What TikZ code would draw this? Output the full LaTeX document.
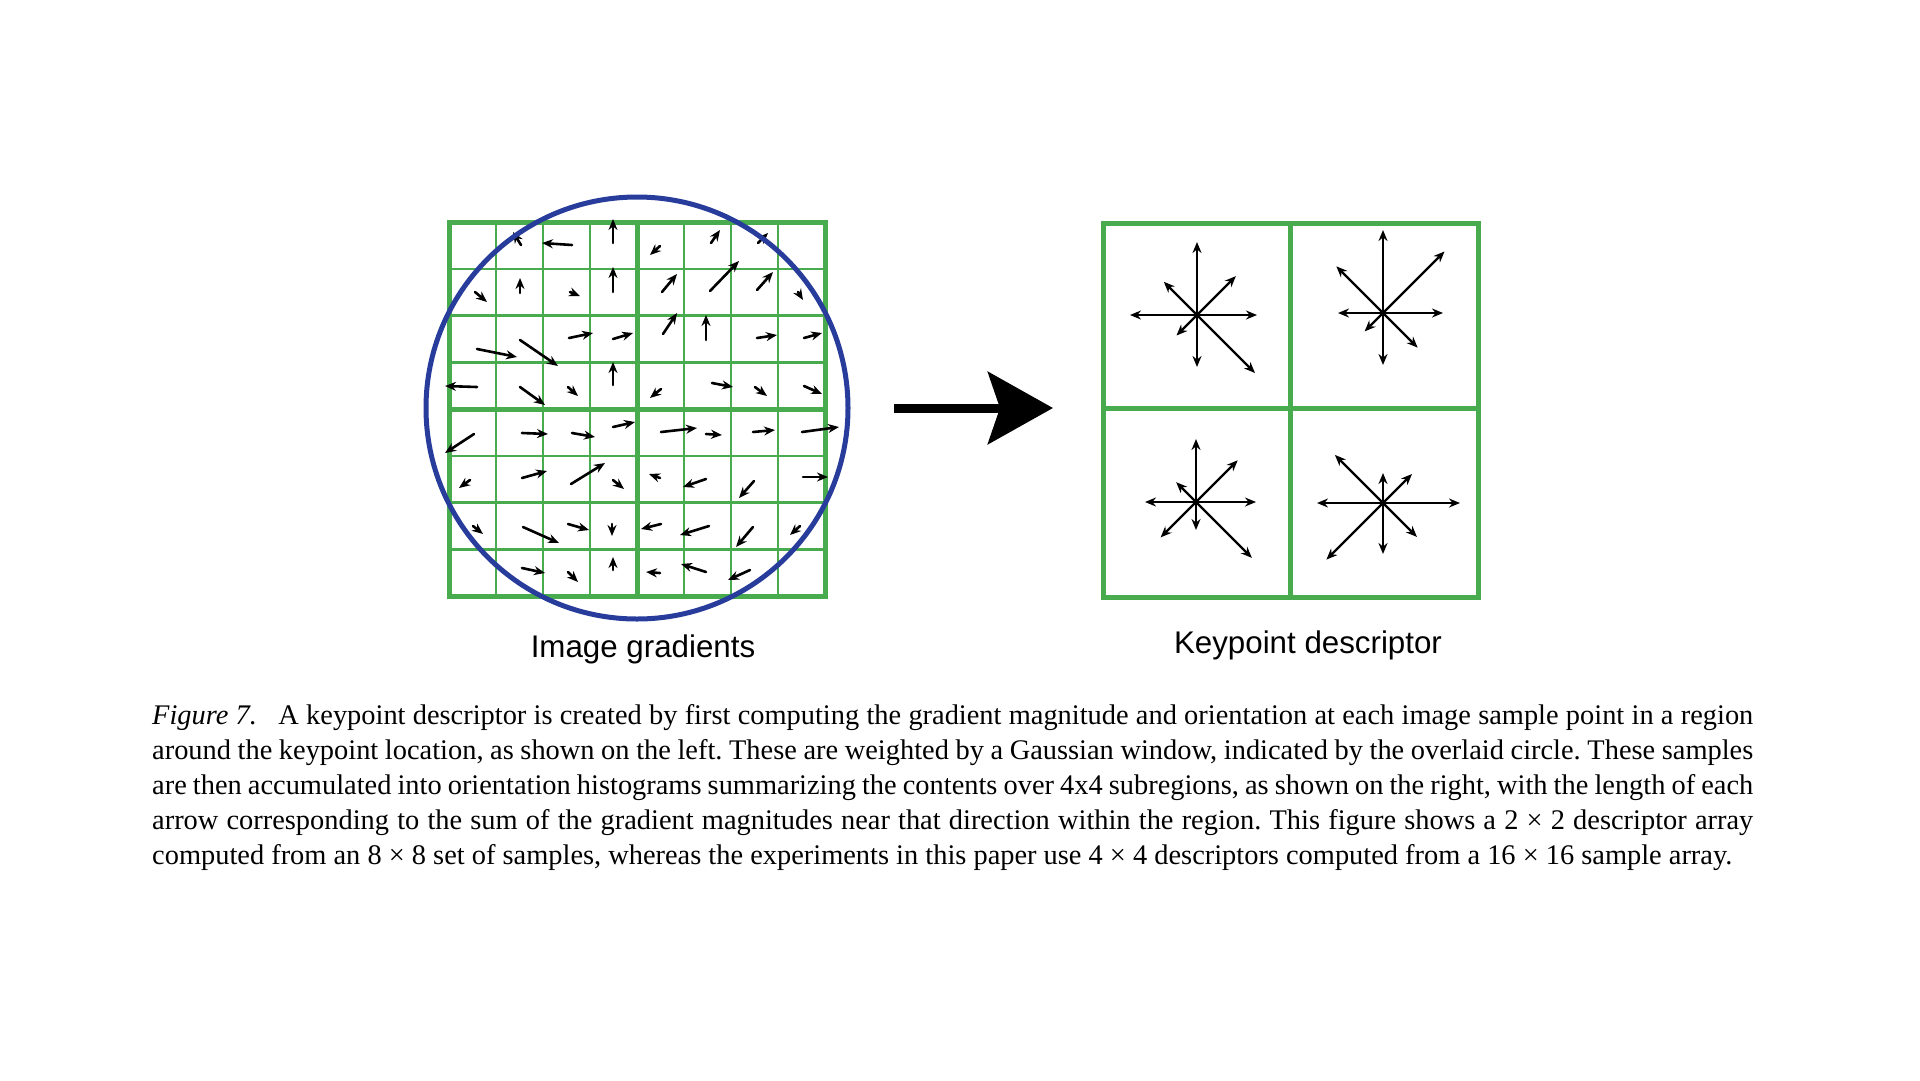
\documentclass[tikz,border=0pt]{standalone}
\usepackage{fontspec}
\setmainfont{Liberation Serif}
\newfontfamily\labelfont{Liberation Sans}
\usetikzlibrary{arrows.meta}
\definecolor{gridgreen}{RGB}{72,172,78}
\definecolor{circblue}{RGB}{40,60,155}

\begin{document}
\begin{tikzpicture}[x=1pt,y=-1pt,>={Stealth[length=11pt,width=9pt]},
  thingrid/.style={gridgreen,line width=2.5pt},
  thickgrid/.style={gridgreen,line width=5pt},
  gradarrow/.style={->,line width=2.6pt,line cap=round},
  histarrow/.style={->,line width=2.4pt}]
\useasboundingbox (0,0) rectangle (1920,1080);
% image samples, 8x8
\foreach \i in {1,...,7}{
  \draw[thingrid] ({449+47*\i},222) -- ({449+47*\i},596);
  \draw[thingrid] (449,{222+46.75*\i}) -- (825,{222+46.75*\i});
}
\draw[thickgrid] (449,222) rectangle (825,596);
\draw[thickgrid] (637,222) -- (637,596) (449,409) -- (825,409);
% gradient at each sample
\foreach \xa/\ya/\xb/\yb in {
  521/245/513/232, 572/245/542/243, 613/243/613/219, 660/246/650/255, 711/243/720/230, 758/243/768/233,
  475/292/487/302, 520/293/520/278, 570/292/580/296, 613/292/613/267, 662/292/677/274, 710/291/739/261, 757/290/773/272, 798/292/803/300,
  477/349/517/357, 520/340/558/366, 569/338/593/333, 613/339/633/333, 663/334/677/313, 706/340/706/315, 757/338/777/335, 804/338/822/333,
  477/387/445/386, 520/387/545/405, 568/387/578/396, 613/385/613/362, 661/389/650/398, 712/383/733/387, 755/387/767/396, 804/386/822/394,
  474/434/445/453, 522/433/548/434, 572/433/595/437, 613/427/635/422, 661/432/697/428, 706/434/722/435, 753/432/775/430, 802/432/839/427,
  470/480/459/488, 522/478/547/471, 571/484/605/463, 613/480/624/489, 660/478/649/474, 706/479/683/487, 754/481/739/498, 803/477/828/477,
  473/526/483/534, 523/527/559/543, 568/524/589/530, 612/524/612/536, 661/524/641/529, 709/526/680/535, 753/527/736/547, 800/526/790/535,
  522/568/545/573, 568/572/578/582, 613/570/613/557, 660/573/646/572, 706/572/681/564, 750/570/728/580}
  \draw[gradarrow] (\xa,\ya) -- (\xb,\yb);
% gaussian window
\draw[circblue,line width=5pt] (637,408) circle[radius=211];
% big arrow
\coordinate (arrtail) at (894,408);
\coordinate (arrhead) at (1053,408);
\draw[line width=9pt,-{Stealth[length=65pt,width=72pt,inset=12pt]}] (arrtail) -- (arrhead);
% descriptor, 2x2
\draw[thickgrid] (1103,223) rectangle (1478,597);
\draw[thickgrid] (1290,223) -- (1290,597) (1103,408) -- (1478,408);
\coordinate (histTL) at (1197,315);
\coordinate (histTR) at (1383,313);
\coordinate (histBL) at (1196,502);
\coordinate (histBR) at (1383,503);
\foreach \a/\l in {0/60,45/55,90/73,135/47,180/67,225/29,270/52,315/82}
  \draw[histarrow] (histTL) -- ++(\a:\l pt);
\foreach \a/\l in {0/60,45/87,90/83,135/66,180/45,225/26,270/52,315/49}
  \draw[histarrow] (histTR) -- ++(\a:\l pt);
\foreach \a/\l in {0/60,45/59,90/63,135/28,180/51,225/50,270/28,315/79}
  \draw[histarrow] (histBL) -- ++(\a:\l pt);
\foreach \a/\l in {0/77,45/41,90/30,135/68,180/66,225/80,270/51,315/48}
  \draw[histarrow] (histBR) -- ++(\a:\l pt);
% labels
\node[font=\labelfont\fontsize{31.3}{36}\selectfont] (imglbl) at (643,649) {Image gradients};
\node[font=\labelfont\fontsize{31.3}{36}\selectfont] (desclbl) at (1308,645) {Keypoint descriptor};
\node[anchor=base west,text width=1601pt,align=justify,inner sep=0pt,
  font=\fontsize{28.4}{35}\selectfont\frenchspacing] (caption) at (152,724)
  {\textit{Figure 7.}\hspace{0.5em} A keypoint descriptor is created by first computing the gradient magnitude and orientation at each image sample point in a region\linebreak
  around the keypoint location, as shown on the left. These are weighted by a Gaussian window, indicated by the overlaid circle. These samples\linebreak
  are then accumulated into orientation histograms summarizing the contents over 4x4 subregions, as shown on the right, with the length of each\linebreak
  arrow corresponding to the sum of the gradient magnitudes near that direction within the region. This figure shows a 2~×~2 descriptor array\linebreak
  computed from an 8~×~8 set of samples, whereas the experiments in this paper use 4~×~4 descriptors computed from a 16~×~16 sample array.};
\end{tikzpicture}
\end{document}
